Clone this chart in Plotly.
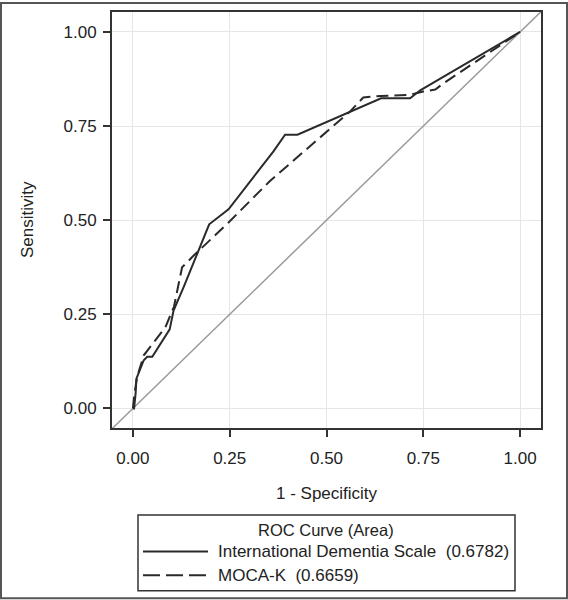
import plotly.graph_objects as go

# International Dementia Scale ROC curve (1 - specificity, sensitivity)
ids_fpr = [0.0, 0.003, 0.007, 0.009, 0.028, 0.037, 0.05, 0.095, 0.105, 0.131, 0.197, 0.247, 0.363, 0.393, 0.425, 0.557, 0.641, 0.716, 0.742, 1.0]
ids_tpr = [0.0, 0.0, 0.04, 0.079, 0.128, 0.137, 0.137, 0.21, 0.26, 0.322, 0.489, 0.529, 0.683, 0.727, 0.727, 0.785, 0.824, 0.824, 0.845, 1.0]

# MOCA-K ROC curve
moca_fpr = [0.0, 0.004, 0.011, 0.028, 0.084, 0.106, 0.127, 0.157, 0.247, 0.354, 0.45, 0.561, 0.595, 0.64, 0.716, 0.75, 0.781, 0.80, 1.0]
moca_tpr = [0.0, 0.04, 0.084, 0.141, 0.216, 0.27, 0.375, 0.406, 0.494, 0.604, 0.69, 0.789, 0.826, 0.83, 0.833, 0.842, 0.847, 0.862, 1.0]

diag = [-0.1, 1.1]

tick_vals = [0.0, 0.25, 0.5, 0.75, 1.0]
tick_text = ["0.00", "0.25", "0.50", "0.75", "1.00"]

legend_title = "ROC Curve (Area)"
legend_labels = ["International Dementia Scale  (0.6782)", "MOCA-K  (0.6659)"]

FONT = "Liberation Sans, Arial, sans-serif"
TXT = "#222222"
FS = 17

fig = go.Figure()
fig.add_trace(go.Scatter(x=diag, y=diag, mode="lines",
                         line=dict(color="#9a9a9a", width=1.5), showlegend=False, hoverinfo="skip"))
fig.add_trace(go.Scatter(x=moca_fpr, y=moca_tpr, mode="lines", name=legend_labels[1],
                         line=dict(color="#2a2a2a", width=2, dash="12px,6px"), showlegend=False))
fig.add_trace(go.Scatter(x=ids_fpr, y=ids_tpr, mode="lines", name=legend_labels[0],
                         line=dict(color="#2a2a2a", width=2), showlegend=False))

axis_common = dict(
    showgrid=True, gridcolor="#e6e6e6", gridwidth=1,
    zeroline=False, showline=True, linecolor="#333333", linewidth=2, mirror=True,
    ticks="outside", ticklen=7, tickwidth=1.5, tickcolor="#333333",
    tickvals=tick_vals, ticktext=tick_text,
    tickfont=dict(family=FONT, size=FS, color=TXT),
)

fig.update_layout(
    width=568, height=600,
    margin=dict(l=112, r=27, t=10, b=172),
    paper_bgcolor="white", plot_bgcolor="white",
    showlegend=False,
    xaxis=dict(range=[-0.054, 1.054], ticklabelstandoff=7, **axis_common),
    yaxis=dict(range=[-0.052, 1.053], ticklabelstandoff=3, **axis_common),
)

def px_x(px):
    return (px - 112) / 429.0

def px_y(py):
    return (428 - py) / 418.0

annotations = [
    dict(text="1 - Specificity", x=px_x(327), y=px_y(494), xref="paper", yref="paper",
         showarrow=False, xanchor="center", yanchor="middle", font=dict(family=FONT, size=FS, color=TXT)),
    dict(text="Sensitivity", x=px_x(27), y=px_y(219), xref="paper", yref="paper", textangle=-90,
         showarrow=False, xanchor="center", yanchor="middle", font=dict(family=FONT, size=FS, color=TXT)),
    dict(text=legend_title, x=px_x(326), y=px_y(530.5), xref="paper", yref="paper",
         showarrow=False, xanchor="center", yanchor="middle", font=dict(family=FONT, size=16.5, color=TXT)),
    dict(text=legend_labels[0], x=px_x(216), y=px_y(552), xref="paper", yref="paper",
         showarrow=False, xanchor="left", yanchor="middle", font=dict(family=FONT, size=FS, color=TXT)),
    dict(text=legend_labels[1], x=px_x(216), y=px_y(576), xref="paper", yref="paper",
         showarrow=False, xanchor="left", yanchor="middle", font=dict(family=FONT, size=FS, color=TXT)),
]

shapes = [
    # image border
    dict(type="rect", xref="paper", yref="paper", x0=px_x(1), x1=px_x(567), y0=px_y(599), y1=px_y(1),
         line=dict(color="#555555", width=2)),
    # legend box
    dict(type="rect", xref="paper", yref="paper", x0=px_x(138), x1=px_x(515), y0=px_y(591.5), y1=px_y(515.5),
         line=dict(color="#333333", width=1.5)),
    # legend samples
    dict(type="line", xref="paper", yref="paper", x0=px_x(143), x1=px_x(208), y0=px_y(552), y1=px_y(552),
         line=dict(color="#2a2a2a", width=2)),
    dict(type="line", xref="paper", yref="paper", x0=px_x(143), x1=px_x(208), y0=px_y(576), y1=px_y(576),
         line=dict(color="#2a2a2a", width=2, dash="17px,6px")),
]

fig.update_layout(annotations=annotations, shapes=shapes)
fig.write_html("out.html", config={"displayModeBar": False},
               post_script="document.body.style.margin='0px';document.body.style.overflow='hidden';")
